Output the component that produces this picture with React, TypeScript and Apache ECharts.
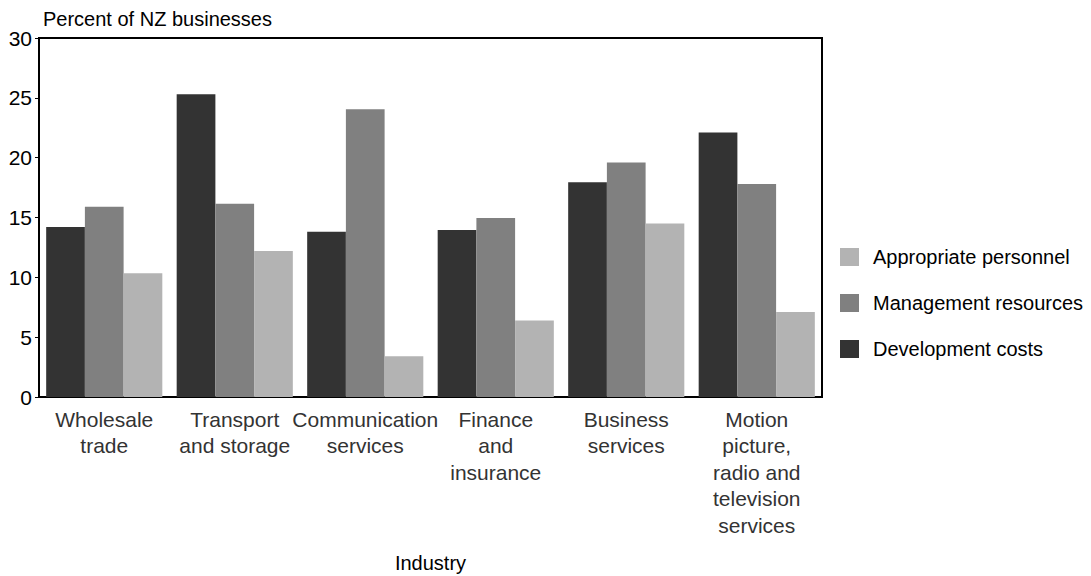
import React, { useEffect, useRef } from "react";
import * as echarts from "echarts";

const categories = [
  "Wholesale\ntrade",
  "Transport\nand storage",
  "Communication\nservices",
  "Finance\nand\ninsurance",
  "Business\nservices",
  "Motion\npicture,\nradio and\ntelevision\nservices",
];
const developmentCosts = [14.2, 25.3, 13.8, 13.95, 17.95, 22.1];
const managementResources = [15.9, 16.15, 24.05, 14.95, 19.6, 17.8];
const appropriatePersonnel = [10.35, 12.2, 3.4, 6.4, 14.5, 7.1];
const seriesNames = ["Development costs", "Management resources", "Appropriate personnel"];
const legendOrder = ["Appropriate personnel", "Management resources", "Development costs"];
const colors = ["#333333", "#808080", "#b3b3b3"];
const yTicks = { min: 0, max: 30, interval: 5 };

const FONT = "'Liberation Sans', Arial, sans-serif";

export default function App() {
  const ref = useRef<HTMLDivElement>(null);
  useEffect(() => {
    if (!ref.current) return;
    const chart = echarts.init(ref.current, undefined, { renderer: "svg" });
    const values = [developmentCosts, managementResources, appropriatePersonnel];
    chart.setOption({
      animation: false,
      textStyle: { fontFamily: FONT },
      grid: {
        left: 39,
        right: 269,
        top: 38,
        bottom: 179,
        show: true,
        borderColor: "#000",
        borderWidth: 2,
        containLabel: false,
        outerBoundsMode: "none",
      },
      graphic: [
        {
          type: "text",
          left: 43,
          top: 9,
          style: { text: "Percent of NZ businesses", font: `20px ${FONT}`, fill: "#000" },
        },
      ],
      legend: {
        orient: "vertical",
        left: 835,
        top: 242,
        itemWidth: 19,
        itemHeight: 18,
        itemGap: 26,
        icon: "rect",
        data: legendOrder,
        textStyle: { fontSize: 20, color: "#000", fontFamily: FONT, lineHeight: 18, padding: [0, 0, 0, 9] },
      },
      xAxis: {
        type: "category",
        data: categories,
        name: "Industry",
        nameLocation: "middle",
        nameGap: 156,
        nameTextStyle: { fontSize: 20, color: "#000", fontFamily: FONT },
        axisLine: { lineStyle: { color: "#000", width: 2 } },
        axisTick: { show: false },
        axisLabel: {
          interval: 0,
          fontSize: 21,
          lineHeight: 26.5,
          color: "#333",
          margin: 9,
          fontFamily: FONT,
        },
      },
      yAxis: {
        type: "value",
        min: yTicks.min,
        max: yTicks.max,
        interval: yTicks.interval,
        splitLine: { show: false },
        axisLine: { show: true, lineStyle: { color: "#000", width: 2 } },
        axisTick: { show: true, length: 4, lineStyle: { color: "#000" } },
        axisLabel: { fontSize: 21, color: "#000", margin: 7, fontFamily: FONT },
      },
      series: seriesNames.map((name, i) => ({
        name,
        type: "bar",
        data: values[i],
        barGap: "0%",
        barCategoryGap: "11%",
        itemStyle: { color: colors[i] },
      })),
    });
    return () => chart.dispose();
  }, []);
  return (
    <div
      ref={ref}
      style={{ position: "fixed", left: 0, top: 0, width: 1091, height: 576, background: "#fff" }}
    />
  );
}
